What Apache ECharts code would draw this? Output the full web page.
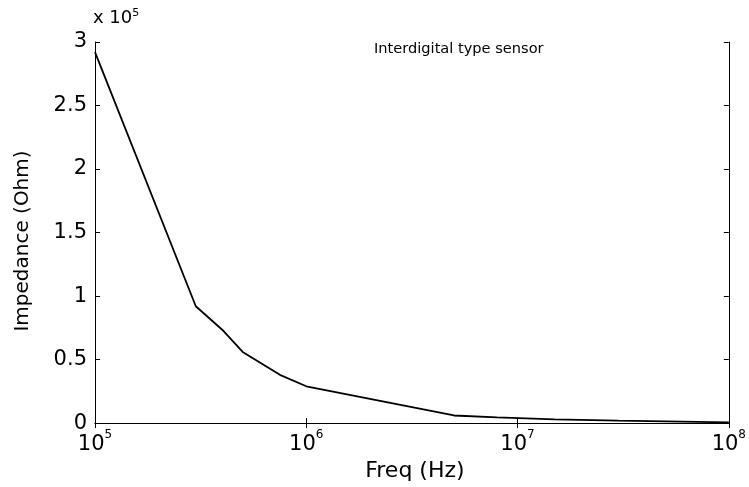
<!DOCTYPE html>
<html>
<head>
<meta charset="utf-8">
<script src="https://cdn.jsdelivr.net/npm/echarts@6/dist/echarts.min.js"></script>
<style>html,body{margin:0;padding:0;background:#fff;}#c{width:749px;height:487px;}</style>
</head>
<body>
<div id="c"></div>
<script>
// Frequency (Hz) and impedance (x 10^5 Ohm)
const freq = [1e5, 3e5, 4e5, 5e5, 7.5e5, 1e6, 5e6, 8e6, 1.5e7, 3e7, 1e8];
const impedance = [2.92, 0.92, 0.735, 0.56, 0.38, 0.29, 0.06, 0.045, 0.03, 0.02, 0.005];
const yTicks = [0, 0.5, 1, 1.5, 2, 2.5, 3];
const xMin = 1e5, xMax = 1e8;
const titleText = 'Interdigital type sensor';
const xName = 'Freq (Hz)';
const yName = 'Impedance (Ohm)';
const scaleExp = 5;

const FONT = 'DejaVu Sans';
const chart = echarts.init(document.getElementById('c'), null, {renderer: 'canvas'});
const supRich = {
  b: {fontFamily: FONT, fontSize: 21, color: '#000', verticalAlign: 'bottom', lineHeight: 26},
  s: {fontFamily: FONT, fontSize: 12, color: '#000', verticalAlign: 'top', lineHeight: 26, padding: [0, 0, 14, 0]}
};
chart.setOption({
  animation: false,
  backgroundColor: '#fff',
  title: [{
    text: titleText, left: 369, top: 37,
    textStyle: {fontFamily: FONT, fontSize: 14.6, fontWeight: 'normal', color: '#000'}
  }],
  graphic: [{
    type: 'text', left: 93, top: 8,
    style: {
      text: 'x 10{s|' + scaleExp + '}',
      rich: {
        s: {fontFamily: FONT, fontSize: 11, color: '#000', verticalAlign: 'top', padding: [0, 0, 10, 0]}
      },
      fontFamily: FONT, fontSize: 18, fill: '#000'
    }
  }, {
    type: 'text', x: 23, y: 241, rotation: Math.PI / 2,
    style: {
      text: yName, fontFamily: FONT, fontSize: 20, fill: '#000',
      align: 'center', verticalAlign: 'middle'
    }
  }],
  grid: {left: 95, right: 18, top: 42, bottom: 46, containLabel: false},
  xAxis: [{
    type: 'log', min: xMin, max: xMax, logBase: 10, position: 'bottom',
    name: xName, nameLocation: 'middle', nameGap: 10,
    nameTextStyle: {fontFamily: FONT, fontSize: 22, color: '#000', padding: [0, 0, 0, 6]},
    axisLine: {show: true, lineStyle: {color: '#000', width: 1}},
    axisTick: {show: true, inside: true, length: 5, lineStyle: {color: '#000'}},
    splitLine: {show: false},
    axisLabel: {
      margin: 6, color: '#000',
      formatter: v => '{b|10}{s|' + Math.round(Math.log10(v)) + '}',
      rich: supRich
    }
  }, {
    type: 'log', min: xMin, max: xMax, logBase: 10, position: 'top',
    axisLine: {show: true, lineStyle: {color: '#000', width: 1}},
    axisTick: {show: true, inside: true, length: 5, lineStyle: {color: '#000'}},
    axisLabel: {show: false}, splitLine: {show: false}
  }],
  yAxis: [{
    type: 'value', min: yTicks[0], max: yTicks[yTicks.length - 1], interval: 0.5, position: 'left',
    axisLine: {show: true, lineStyle: {color: '#000', width: 1}},
    axisTick: {show: true, inside: true, length: 5, lineStyle: {color: '#000'}},
    splitLine: {show: false},
    axisLabel: {fontFamily: FONT, fontSize: 21, color: '#000', margin: 8, formatter: v => String(v)}
  }, {
    type: 'value', min: yTicks[0], max: yTicks[yTicks.length - 1], interval: 0.5, position: 'right',
    axisLine: {show: true, lineStyle: {color: '#000', width: 1}},
    axisTick: {show: true, inside: true, length: 5, lineStyle: {color: '#000'}},
    axisLabel: {show: false}, splitLine: {show: false}
  }],
  series: [{
    type: 'line', xAxisIndex: 0, yAxisIndex: 0,
    data: freq.map((f, i) => [f, impedance[i]]),
    showSymbol: false, symbol: 'none', smooth: false,
    lineStyle: {color: '#000', width: 1.8}
  }]
});
</script>
</body>
</html>
